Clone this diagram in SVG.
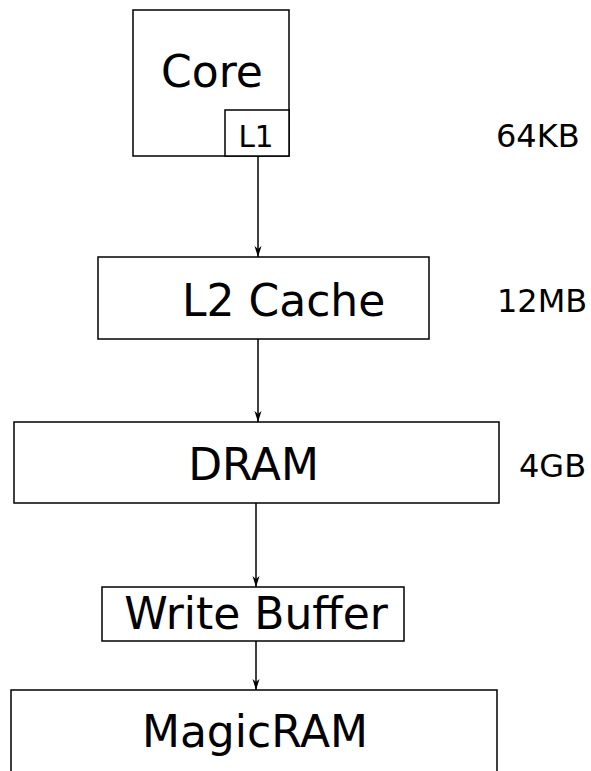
<svg xmlns="http://www.w3.org/2000/svg" width="591" height="771" viewBox="0 0 591 771">
<style>
.box{fill:#fff;stroke:#000;stroke-width:1.5}
.big{font-family:"DejaVu Sans",sans-serif;font-size:44px;fill:#000}
.small{font-family:"DejaVu Sans",sans-serif;font-size:32px;fill:#000}
.l1{font-family:"DejaVu Sans",sans-serif;font-size:29.5px;fill:#000}
.edge{stroke:#000;stroke-width:1.5;fill:none;marker-end:url(#arr)}
</style>
<defs>
<marker id="arr" markerWidth="12" markerHeight="12" refX="11" refY="6" orient="auto" markerUnits="userSpaceOnUse">
<path d="M0,2.5 L11,6 L0,9.5 L3,6 Z" fill="#000"/>
</marker>
</defs>
<g id="core">
<rect class="box" x="133" y="10" width="156" height="146"/>
<text class="big" x="212" y="87" text-anchor="middle">Core</text>
</g>
<g id="l1">
<rect class="box" x="225" y="110" width="64" height="46"/>
<text class="l1" x="256" y="147" text-anchor="middle">L1</text>
</g>
<g id="l2">
<rect class="box" x="98" y="257" width="331" height="82"/>
<text class="big" x="182" y="316">L2 Cache</text>
</g>
<g id="dram">
<rect class="box" x="14" y="422" width="485" height="81"/>
<text class="big" x="253.5" y="480" text-anchor="middle">DRAM</text>
</g>
<g id="wb">
<rect class="box" x="102" y="587" width="302" height="54"/>
<text class="big" x="256" y="629" text-anchor="middle">Write Buffer</text>
</g>
<g id="magic">
<rect class="box" x="11" y="690" width="486" height="100"/>
<text class="big" x="255" y="747" text-anchor="middle">MagicRAM</text>
</g>
<g id="sizes">
<text class="small" x="496" y="147">64KB</text>
<text class="small" x="497" y="312">12MB</text>
<text class="small" x="519" y="477">4GB</text>
</g>
<g id="connectors">
<line class="edge" x1="258" y1="156" x2="258" y2="257"/>
<line class="edge" x1="258" y1="339" x2="258" y2="422"/>
<line class="edge" x1="256" y1="503" x2="256" y2="587"/>
<line class="edge" x1="256" y1="641" x2="256" y2="690"/>
</g>
</svg>
